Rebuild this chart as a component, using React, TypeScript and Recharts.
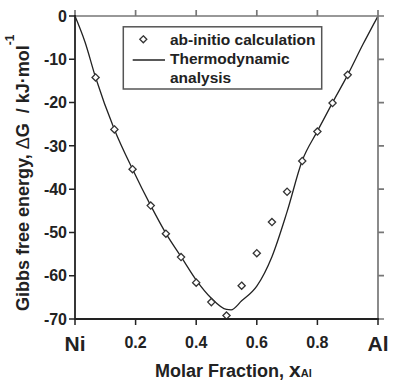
import React from 'react';
import * as R from 'recharts';
import { ComposedChart, Line, Scatter, XAxis, YAxis, Legend } from 'recharts';

// ab-initio formation energies (diamonds)
const abInitioX = [0.068, 0.13, 0.19, 0.25, 0.3, 0.35, 0.4, 0.45, 0.5, 0.55, 0.6, 0.65, 0.7, 0.75, 0.8, 0.85, 0.9];
const abInitioG = [-14.2, -26.2, -35.4, -43.8, -50.3, -55.7, -61.6, -66.1, -69.2, -62.3, -54.8, -47.6, -40.6, -33.5, -26.7, -20.1, -13.6];

// thermodynamic assessment (solid curve)
const thermoX = [0, 0.033, 0.068, 0.13, 0.19, 0.25, 0.3, 0.35, 0.4, 0.45, 0.5, 0.515, 0.55, 0.6, 0.65, 0.7, 0.75, 0.8, 0.85, 0.9, 0.95, 1.0];
const thermoG = [0, -6.0, -14.2, -26.2, -35.4, -43.8, -50.2, -55.6, -61.0, -65.2, -67.8, -67.9, -65.8, -62.4, -55.6, -45.2, -33.4, -26.6, -20.0, -13.6, -6.6, 0];

const xTicks = [0, 0.2, 0.4, 0.6, 0.8, 1];
const xTickLabels = ['Ni', '0.2', '0.4', '0.6', '0.8', 'Al'];
const yTicks = [0, -10, -20, -30, -40, -50, -60, -70];
const yTickLabels = ['0', '-10', '-20', '-30', '-40', '-50', '-60', '-70'];

const X_DOMAIN: [number, number] = [0, 1];
const Y_DOMAIN: [number, number] = [-70, 0];

const abInitio = abInitioX.map((x, i) => ({ x, y: abInitioG[i] }));
const thermo = thermoX.map((x, i) => ({ x, y: thermoG[i] }));

const W = 396;
const H = 382;
const MARGIN = { top: 16, right: 18, bottom: 33, left: 15 };
const X_AXIS_H = 30;
const Y_AXIS_W = 60;

const FONT = '"Liberation Sans", Arial, Helvetica, sans-serif';
const TEXT = '#222';
const DARK = '#222';
const GREY = '#777';
const TICK_LEN = 6;

// plot rectangle from the chart context when available
const usePlotAreaHook: any = (R as any).usePlotArea;
const fallbackPlot = {
  x: MARGIN.left + Y_AXIS_W,
  y: MARGIN.top,
  width: W - MARGIN.left - Y_AXIS_W - MARGIN.right,
  height: H - MARGIN.top - MARGIN.bottom - X_AXIS_H,
};
const usePlot = (): { x: number; y: number; width: number; height: number } => {
  const p = usePlotAreaHook ? usePlotAreaHook() : null;
  return p && p.width > 0 ? p : fallbackPlot;
};

const XTick = (props: any) => {
  const { x, y, payload } = props;
  const label = xTickLabels[xTicks.indexOf(payload.value)];
  const big = label === 'Ni' || label === 'Al';
  return (
    <text x={x} y={y + (big ? 26 : 22.5)} textAnchor="middle" fontFamily={FONT}
      fontSize={big ? 21 : 16} fontWeight="bold" fill={TEXT} stroke="none">
      {label}
    </text>
  );
};

const YTick = (props: any) => {
  const { x, y, payload } = props;
  const label = yTickLabels[yTicks.indexOf(payload.value)];
  return (
    <text x={x} y={y} dy="0.36em" textAnchor="end" fontFamily={FONT}
      fontSize={16} fontWeight="bold" fill={TEXT} stroke="none">
      {label}
    </text>
  );
};

const Diamond = (props: any) => {
  const { cx, cy } = props;
  const r = 3.6;
  return (
    <path d={`M${cx},${cy - r}L${cx + r},${cy}L${cx},${cy + r}L${cx - r},${cy}Z`}
      fill="#fff" stroke="#333" strokeWidth={1.3} />
  );
};

// axis frame, tick marks and the legend box, drawn over the chart
const FrameAndLegend = () => {
  const p = usePlot();
  const sx = (v: number) => p.x + ((v - X_DOMAIN[0]) / (X_DOMAIN[1] - X_DOMAIN[0])) * p.width;
  const sy = (v: number) => p.y + ((Y_DOMAIN[1] - v) / (Y_DOMAIN[1] - Y_DOMAIN[0])) * p.height;
  const left = p.x, right = p.x + p.width, top = p.y, bottom = p.y + p.height;
  const grey = [
    `M${left},${top}L${right},${top}`,
    `M${right},${top}L${right},${bottom}`,
    ...xTicks.map((v) => `M${sx(v)},${top}L${sx(v)},${top - TICK_LEN}`),
    ...yTicks.map((v) => `M${right},${sy(v)}L${right + TICK_LEN},${sy(v)}`),
  ].join('');
  const dark = [
    `M${left},${top}L${left},${bottom}`,
    `M${left},${bottom}L${right},${bottom}`,
  ].join('');
  const darkTicks = [
    ...xTicks.map((v) => `M${sx(v)},${bottom}L${sx(v)},${bottom + TICK_LEN}`),
    ...yTicks.map((v) => `M${left},${sy(v)}L${left - TICK_LEN},${sy(v)}`),
  ].join('');
  return (
    <svg width={W} height={H} style={{ display: 'block' }}>
      <path d={grey} stroke={GREY} strokeWidth={1.7} fill="none" />
      <path d={dark} stroke={DARK} strokeWidth={1.8} fill="none" strokeLinecap="square" />
      <path d={darkTicks} stroke={DARK} strokeWidth={1.5} fill="none" />
      <g transform="translate(122, 26)">
        <rect x={1.3} y={0.8} width={198.4} height={62.2} fill="#fff" stroke="#555" strokeWidth={1.5} />
        <path d="M21.3,9.8L24.8,13.3L21.3,16.8L17.8,13.3Z" fill="#fff" stroke="#333" strokeWidth={1.3} />
        <path d="M10.7,34L43,34" stroke="#222" strokeWidth={1.3} fill="none" />
        <text fontFamily={FONT} fontSize={15.5} fontWeight="bold" fill={TEXT}>
          <tspan x={48} y={19}>ab-initio calculation</tspan>
          <tspan x={48} y={37.5}>Thermodynamic</tspan>
          <tspan x={48} y={56.5}>analysis</tspan>
        </text>
      </g>
    </svg>
  );
};

const XTitle = (props: any) => {
  const vb = props.viewBox;
  return (
    <text x={vb.x + 80} y={377} fontFamily={FONT} fontWeight="bold" fill={TEXT} stroke="none" fontSize={18}>
      Molar Fraction, <tspan fontSize={21}>x</tspan><tspan fontSize={11}>Al</tspan>
    </text>
  );
};

const YTitle = () => (
  <text transform="translate(29, 311) rotate(-90)" fontFamily={FONT} fontWeight="bold"
    fill={TEXT} stroke="none" fontSize={18} style={{ whiteSpace: 'pre' }}>
    Gibbs free energy, <tspan fontWeight="normal">Δ</tspan>G  / kJ·mol<tspan dy={-15} fontSize={12}>-1</tspan>
  </text>
);

export default function App() {
  return (
    <div style={{ position: 'absolute', left: 0, top: 0, width: W, height: H }}>
      <ComposedChart width={W} height={H} margin={MARGIN}>
        <XAxis dataKey="x" type="number" domain={X_DOMAIN} ticks={xTicks}
          height={X_AXIS_H} tickSize={TICK_LEN} tickMargin={0} tick={<XTick />}
          axisLine={false} tickLine={false} label={<XTitle />} />
        <YAxis type="number" domain={Y_DOMAIN} ticks={yTicks}
          width={Y_AXIS_W} tickSize={TICK_LEN} tickMargin={2} tick={<YTick />}
          axisLine={false} tickLine={false} label={<YTitle />} />
        <Line data={thermo} dataKey="y" type="monotone" stroke="#222"
          strokeWidth={1.3} dot={false} activeDot={false} isAnimationActive={false} legendType="line" />
        <Scatter data={abInitio} dataKey="y" shape={<Diamond />}
          isAnimationActive={false} legendType="diamond" />
        <Legend layout="vertical" align="center" verticalAlign="middle"
          wrapperStyle={{ left: 0, top: 0, width: W, height: H, pointerEvents: 'none' }}
          content={<FrameAndLegend />} />
      </ComposedChart>
    </div>
  );
}
